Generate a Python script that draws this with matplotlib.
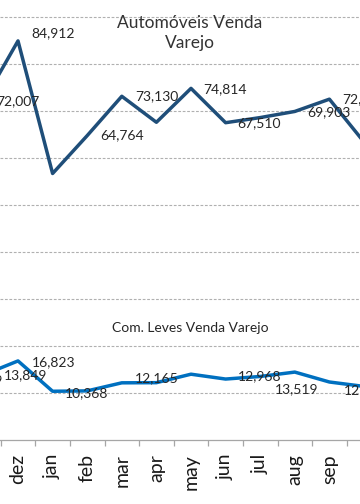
import numpy as np
import matplotlib
matplotlib.use('Agg')
import matplotlib.pyplot as plt

plt.rcParams['font.family'] = ['Lato', 'DejaVu Sans']

# Meses (o primeiro e o último ficam cortados na borda)
meses = ['oct', 'nov', 'dez', 'jan', 'feb', 'mar', 'apr', 'may',
         'jun', 'jul', 'aug', 'sep', 'oct']

# Automóveis Venda Varejo
automoveis = [np.nan, 72007, 84912, 56700, 64764, 73130, 67600, 74814,
              67510, 68600, 69903, 72516, 63400]

# Com. Leves Venda Varejo
com_leves = [13189, 13849, 16823, 10368, 10450, 12165, 12200, 14000,
             12968, 13519, 14450, 12340, 11400]

# rótulos visíveis: índice -> deslocamento (px) do rótulo em relação ao ponto
rot_auto = {1: (13, 0), 2: (13, 8), 4: (13, 0), 5: (13, 0),
            7: (12, -1), 8: (12, 0), 10: (12, -1), 11: (13, 0)}
rot_leves = {0: (11, -2), 1: (20, 0), 2: (14, -1), 3: (12, -2), 5: (13, 5),
             8: (12, 3), 9: (15, -13), 11: (14, -8)}

x = np.arange(len(meses))

fig = plt.figure(figsize=(3.6, 5.04), dpi=100)
ax = fig.add_axes([0, 64 / 504, 1, 440 / 504])

ax.plot(x, automoveis, color='#1F4E79', lw=2.5, solid_joinstyle='round', zorder=3)
ax.plot(x, com_leves, color='#0070C0', lw=2.5, solid_joinstyle='round', zorder=3)

px = 72 / 100  # pixel -> ponto
for serie, rotulos in [(automoveis, rot_auto), (com_leves, rot_leves)]:
    for i, (dx, dy) in rotulos.items():
        ax.annotate(f'{serie[i]:,}', (x[i], serie[i]),
                    xytext=(dx * px, dy * px), textcoords='offset points',
                    ha='left', va='center', fontsize=10, color='#262626',
                    zorder=4, annotation_clip=False)

ax.set_yticks(np.arange(10000, 100000, 10000))
ax.yaxis.grid(True, linestyle=(0, (2.5, 1.5)), color='#b0b0b0', lw=0.8)
ax.tick_params(axis='y', left=False, labelleft=False)

ax.set_xticks(x)
ax.set_xticklabels(meses, rotation=90, fontsize=14, color='#1a1a1a')
ax.set_xticks(x[:-1] + 0.5, minor=True)
ax.tick_params(axis='x', which='major', length=0, pad=10)
ax.tick_params(axis='x', which='minor', length=4.5, color='#a6a6a6', width=0.9)

# limites depois dos ticks (set_xticks amplia a vista)
ax.set_xlim(2 - 18 / 34.6, 2 + 342 / 34.6)
ax.set_ylim(0, 440 / 47 * 10000)

for lado in ['top', 'left', 'right']:
    ax.spines[lado].set_visible(False)
ax.spines['bottom'].set_color('#a6a6a6')
ax.spines['bottom'].set_linewidth(0.9)

fig.text(190 / 360, 1 - 33 / 504, 'Automóveis Venda\nVarejo', ha='center',
         va='center', fontsize=12.5, color='#333333', linespacing=1.3)
fig.text(190 / 360, 1 - 328 / 504, 'Com. Leves Venda Varejo', ha='center',
         va='center', fontsize=10, color='#262626')

fig.savefig('out.png', dpi=100)
